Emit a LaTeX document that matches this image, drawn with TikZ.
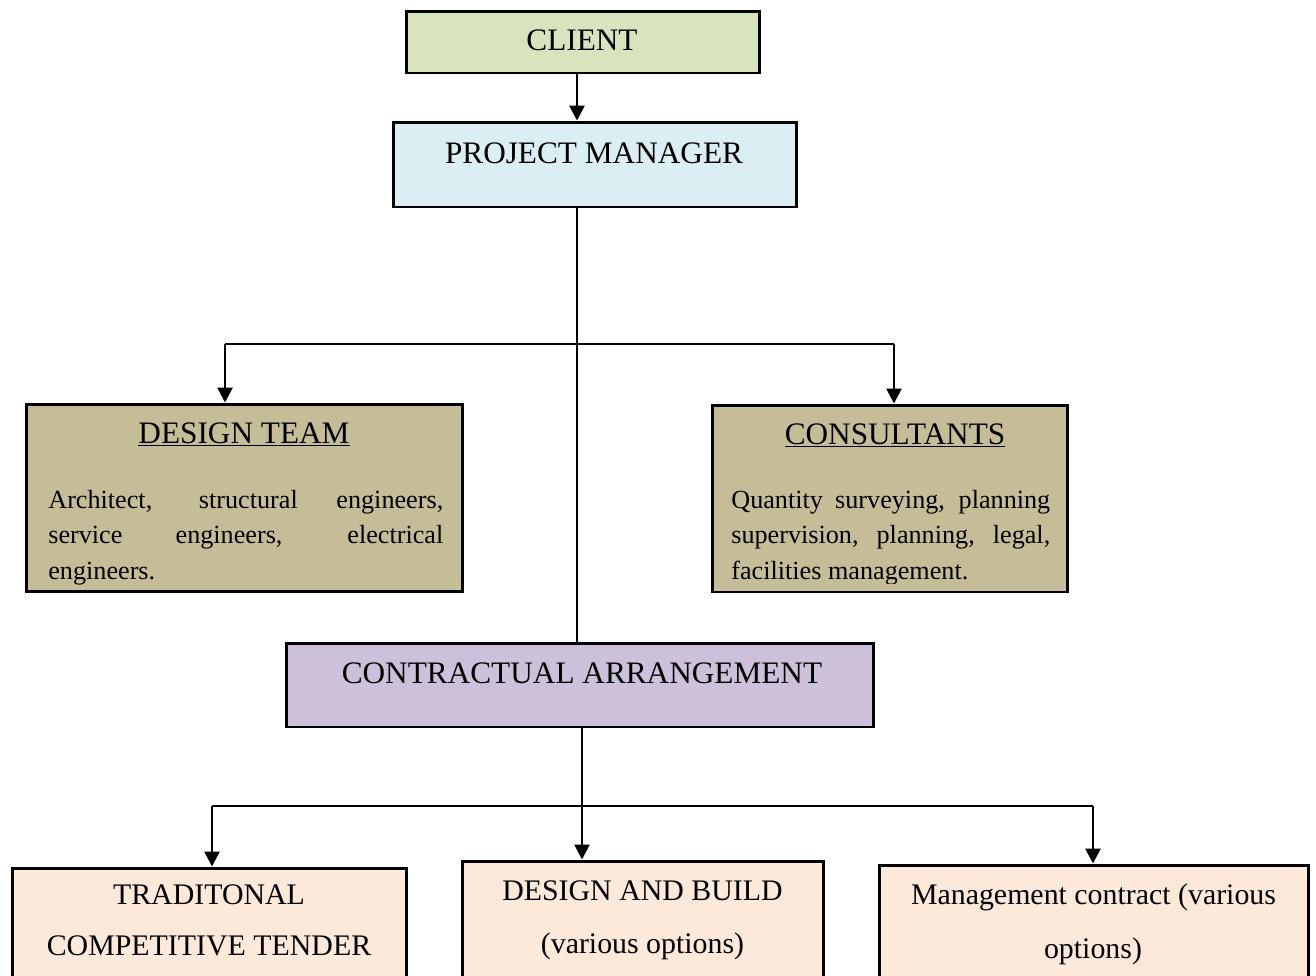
\documentclass[tikz,border=0pt]{standalone}
\usepackage{fontspec}
\setmainfont{Liberation Serif}
\usetikzlibrary{arrows.meta}
\definecolor{clientc}{HTML}{D7E4BD}
\definecolor{pmc}{HTML}{DBEEF3}
\definecolor{teamc}{HTML}{C4BD97}
\definecolor{contrc}{HTML}{CCC0DA}
\definecolor{optc}{HTML}{FDE9D9}
\tikzset{
  box/.style={draw=black, line width=1.7pt, rectangle, inner sep=0pt},
  conn/.style={line width=1.2pt},
  arr/.style={line width=1.5pt, -{Triangle[width=8.5pt,length=8.5pt]}},
  head/.style={font=\fontsize{17.8}{21}\selectfont, inner sep=0pt, anchor=base},
  body/.style={inner sep=0pt, anchor=base west},
  opt/.style={inner sep=0pt, anchor=base},
}
\newcommand{\bodyfont}{\fontsize{14.9}{20.4}\selectfont}
\newcommand{\optfont}{\fontsize{17}{29}\selectfont}
\begin{document}
\begin{tikzpicture}[x=0.02cm,y=-0.02cm]
\clip (0,0) rectangle (1316,975);
\fill[white] (0,0) rectangle (1316,975);

% boxes
\node[box, fill=clientc, minimum width=7.08cm, minimum height=1.24cm] (client) at (583,42) {};
\node[box, fill=pmc, minimum width=8.08cm, minimum height=1.70cm] (pm) at (595,164.5) {};
\node[box, fill=teamc, minimum width=8.74cm, minimum height=3.76cm] (design) at (244.5,498) {};
\node[box, fill=teamc, minimum width=7.12cm, minimum height=3.74cm] (cons) at (890,498.5) {};
\node[box, fill=contrc, minimum width=11.76cm, minimum height=1.68cm] (contr) at (580,685) {};
\node[box, fill=optc, minimum width=7.9cm, minimum height=2.64cm] (trad) at (209.5,934) {};
\node[box, fill=optc, minimum width=7.24cm, minimum height=2.78cm] (db) at (643,930.5) {};
\node[box, fill=optc, minimum width=8.6cm, minimum height=2.7cm] (mc) at (1094,932.5) {};

% headings
\node[head] (clientt) at (582,50) {CLIENT};
\node[head] (pmt) at (594,163) {PROJECT MANAGER};
\node[head] (contrt) at (582,683) {CONTRACTUAL ARRANGEMENT};
\node[head] (designt) at (244,443) {\underline{DESIGN TEAM}};
\node[head] (const) at (895,444) {\underline{CONSULTANTS}};

% body texts (clipped at the box bottom)
\begin{scope}
  \clip (26,404) rectangle (463,586);
  \node[body] (designb) at (48,508) {\parbox[t]{7.9cm}{\bodyfont
    \makebox[7.9cm][s]{Architect, structural engineers,}\\
    \makebox[7.9cm][s]{service engineers, electrical}\\
    engineers.}};
\end{scope}
\begin{scope}
  \clip (712,405) rectangle (1068,583);
  \node[body] (consb) at (731,508) {\parbox[t]{6.38cm}{\bodyfont
    \makebox[6.38cm][s]{Quantity surveying, planning}\\
    \makebox[6.38cm][s]{supervision, planning, legal,}\\
    facilities management.}};
\end{scope}

% option texts
\node[opt] (tradt1) at (209,904) {\optfont TRADITONAL};
\node[opt] (tradt2) at (209,955) {\optfont COMPETITIVE TENDER};
\node[opt] (dbt1) at (642.5,900) {\optfont DESIGN AND BUILD};
\node[opt] (dbt2) at (642.5,953) {\optfont (various options)};
\node[opt] (mct1) at (1093.5,904) {\optfont Management contract (various};
\node[opt] (mct2) at (1093,958) {\optfont options)};

% connector coordinates
\coordinate (xa) at (577,0);
\coordinate (xb) at (582,0);
\coordinate (xl1) at (225,344);
\coordinate (xr1) at (894,344);
\coordinate (xl2) at (212,806);
\coordinate (xr2) at (1093,806);

% connectors
\draw[arr] (client.south -| xa) -- (pm.north -| xa);
\draw[line width=1pt] (pm.south -| xa) -- (contr.north -| xa);
\draw[conn] (xl1) -- (xr1);
\draw[arr] (xl1) -- (design.north -| xl1);
\draw[arr] (xr1) -- (cons.north -| xr1);
\draw[arr] (contr.south -| xb) -- (db.north -| xb);
\draw[conn] (xl2) -- (xr2);
\draw[arr] (xl2) -- (trad.north -| xl2);
\draw[arr] (xr2) -- (mc.north -| xr2);
\end{tikzpicture}
\end{document}
